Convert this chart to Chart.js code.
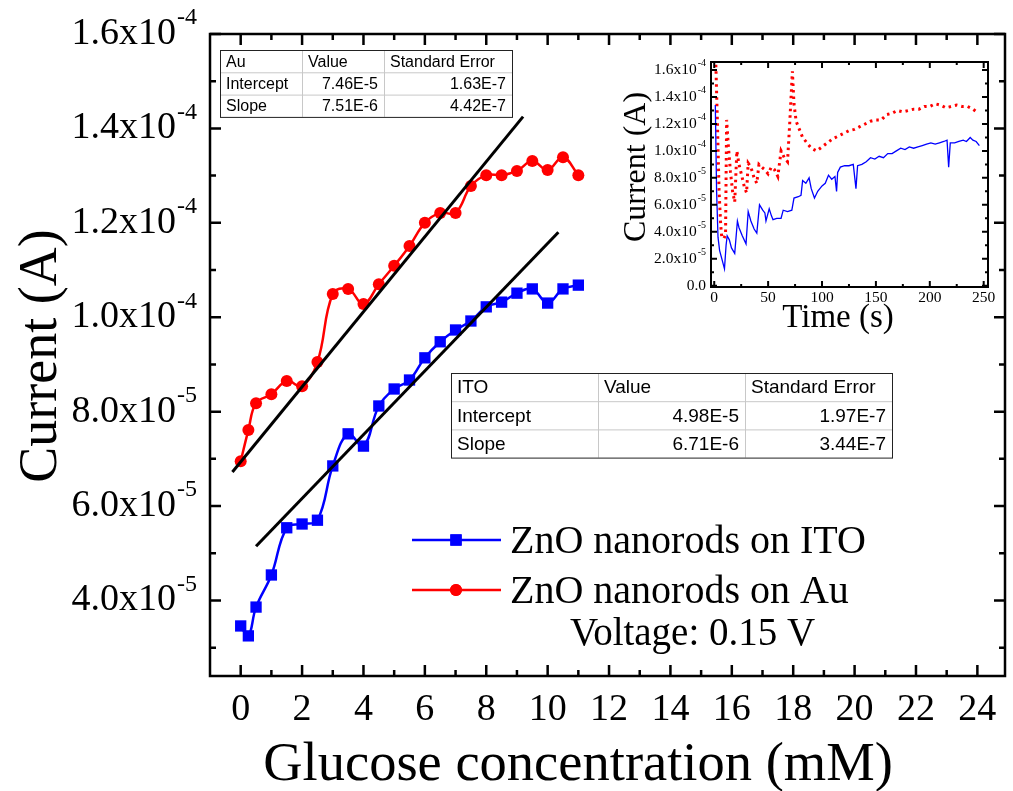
<!DOCTYPE html>
<html>
<head>
<meta charset="utf-8">
<script src="https://cdn.jsdelivr.net/npm/chart.js@4.4.0/dist/chart.umd.min.js"></script>
<style>
  body { margin: 0; background: #fff; }
  #wrap { position: relative; width: 1013px; height: 791px; }
  #mainChart { position: absolute; left: 0; top: 0; }
  #insetChart { position: absolute; left: 600px; top: 40px; }
</style>
</head>
<body>
<div id="wrap">
  <canvas id="mainChart" width="1013" height="791"></canvas>
  <canvas id="insetChart" width="400" height="320"></canvas>
</div>
<script>
// main plot data (glucose in mM, current in A)
const glucose = [0, 0.25, 0.5, 1, 1.5, 2, 2.5, 3, 3.5, 4, 4.5, 5, 5.5, 6, 6.5, 7, 7.5, 8, 8.5, 9, 9.5, 10, 10.5, 11];
const currentITO = [3.46e-5, 3.25e-5, 3.86e-5, 4.54e-5, 5.54e-5, 5.62e-5, 5.70e-5, 6.85e-5, 7.53e-5, 7.27e-5, 8.12e-5, 8.48e-5,
  8.67e-5, 9.14e-5, 9.48e-5, 9.73e-5, 9.92e-5, 1.022e-4, 1.032e-4, 1.051e-4, 1.060e-4, 1.030e-4, 1.060e-4, 1.068e-4];
const currentAu = [6.95e-5, 7.61e-5, 8.18e-5, 8.37e-5, 8.65e-5, 8.54e-5, 9.05e-5, 1.049e-4, 1.060e-4, 1.028e-4, 1.070e-4, 1.109e-4,
  1.151e-4, 1.200e-4, 1.221e-4, 1.221e-4, 1.278e-4, 1.301e-4, 1.301e-4, 1.310e-4, 1.331e-4, 1.312e-4, 1.339e-4, 1.301e-4];

// linear fit lines (end points)
const fitAuX = [-0.27, 9.2];
const fitAuY = [6.72e-5, 1.425e-4];
const fitITOX = [0.5, 10.35];
const fitITOY = [5.15e-5, 1.18e-4];

// axis ticks
const xTicks = [0, 2, 4, 6, 8, 10, 12, 14, 16, 18, 20, 22, 24];
const xMinorTicks = [1, 3, 5, 7, 9, 11, 13, 15, 17, 19, 21, 23];
const yTicks = [4e-5, 6e-5, 8e-5, 1e-4, 1.2e-4, 1.4e-4, 1.6e-4];
const yMinorTicks = [3e-5, 5e-5, 7e-5, 9e-5, 1.1e-4, 1.3e-4, 1.5e-4];
const yTickBase = ['4.0x10', '6.0x10', '8.0x10', '1.0x10', '1.2x10', '1.4x10', '1.6x10'];
const yTickExp = ['-5', '-5', '-5', '-4', '-4', '-4', '-4'];

// fit tables
const auTable = [['Au', 'Value', 'Standard Error'], ['Intercept', '7.46E-5', '1.63E-7'], ['Slope', '7.51E-6', '4.42E-7']];
const itoTable = [['ITO', 'Value', 'Standard Error'], ['Intercept', '4.98E-5', '1.97E-7'], ['Slope', '6.71E-6', '3.44E-7']];

// inset: current vs time
const timeITO = [1, 2.2, 3.5, 5, 7, 9.5, 11, 12, 14, 16, 19, 21.5, 23, 26, 29.5, 31.5, 34, 37, 39.5, 42, 45, 47, 48, 51, 53,
  54.5, 58, 62, 64, 68, 72, 74, 78, 80.5, 82, 85, 88, 90, 93, 96, 100, 103, 106, 109, 112, 113.5, 114.5, 117, 121, 125,
  129, 131.5, 133, 137, 141, 145, 149, 153, 157, 161, 165, 169, 173, 177, 181, 185, 189, 193, 197, 201, 205, 209, 213,
  216, 217.5, 219, 223, 227, 231, 234, 237.5, 240, 243, 246];
const currITO = [1.34e-4, 7.0e-5, 3.6e-5, 2.6e-5, 2.0e-5, 1.25e-5, 3.0e-5, 3.7e-5, 3.4e-5, 2.8e-5, 2.4e-5, 4.8e-5, 4.3e-5,
  3.7e-5, 3.1e-5, 5.5e-5, 4.8e-5, 4.2e-5, 3.9e-5, 6.0e-5, 5.6e-5, 5.4e-5, 4.8e-5, 5.7e-5, 5.2e-5, 4.9e-5, 5.0e-5,
  5.0e-5, 5.6e-5, 5.5e-5, 5.6e-5, 6.5e-5, 6.6e-5, 6.7e-5, 7.8e-5, 7.6e-5, 8.0e-5, 7.2e-5, 6.5e-5, 7.0e-5, 7.4e-5,
  7.6e-5, 8.2e-5, 7.9e-5, 8.1e-5, 7.0e-5, 8.4e-5, 8.8e-5, 8.9e-5, 8.9e-5, 9.0e-5, 7.2e-5, 8.9e-5, 9.0e-5, 9.2e-5,
  9.5e-5, 9.4e-5, 9.6e-5, 9.5e-5, 9.8e-5, 9.8e-5, 1.0e-4, 1.02e-4, 1.01e-4, 1.03e-4, 1.02e-4, 1.03e-4, 1.04e-4,
  1.05e-4, 1.06e-4, 1.05e-4, 1.06e-4, 1.07e-4, 1.08e-4, 8.8e-5, 1.06e-4, 1.06e-4, 1.07e-4, 1.08e-4, 1.07e-4, 1.1e-4,
  1.08e-4, 1.07e-4, 1.04e-4];
const timeAu = [1.5, 3, 4.5, 6, 7, 9, 10.5, 11.5, 13, 15, 17, 19, 21, 23, 26, 28, 30, 31.5, 34, 37, 39.5, 41.5, 44, 47, 50,
  53, 56, 59, 62, 65, 68, 70, 72.5, 74, 76, 79, 82, 86, 90, 95, 100, 105, 110, 115, 120, 125, 130, 135, 140, 145, 150,
  155, 160, 165, 170, 175, 180, 185, 190, 195, 200, 205, 210, 215, 220, 225, 230, 235, 240, 245];
const currAu = [1.64e-4, 1.2e-4, 7.0e-5, 4.5e-5, 3.6e-5, 3.5e-5, 3.8e-5, 1.23e-4, 1.05e-4, 8.5e-5, 7.0e-5, 6.2e-5, 1.0e-4,
  9.0e-5, 8.0e-5, 7.3e-5, 6.9e-5, 9.1e-5, 8.8e-5, 8.0e-5, 7.6e-5, 9.0e-5, 8.8e-5, 8.6e-5, 8.3e-5, 8.8e-5, 8.6e-5,
  8.1e-5, 1.0e-4, 9.5e-5, 9.2e-5, 1.2e-4, 1.59e-4, 1.35e-4, 1.22e-4, 1.16e-4, 1.1e-4, 1.06e-4, 1.02e-4, 1.0e-4, 1.03e-4,
  1.06e-4, 1.09e-4, 1.11e-4, 1.13e-4, 1.15e-4, 1.16e-4, 1.18e-4, 1.2e-4, 1.22e-4, 1.23e-4, 1.23e-4, 1.27e-4, 1.28e-4,
  1.3e-4, 1.29e-4, 1.3e-4, 1.31e-4, 1.31e-4, 1.33e-4, 1.33e-4, 1.35e-4, 1.34e-4, 1.32e-4, 1.33e-4, 1.34e-4, 1.33e-4,
  1.33e-4, 1.31e-4, 1.28e-4];
const insetXTicks = [0, 50, 100, 150, 200, 250];
const insetXMinor = [25, 75, 125, 175, 225];
const insetYTicks = [0, 2e-5, 4e-5, 6e-5, 8e-5, 1e-4, 1.2e-4, 1.4e-4, 1.6e-4];
const insetYMinor = [1e-5, 3e-5, 5e-5, 7e-5, 9e-5, 1.1e-4, 1.3e-4, 1.5e-4];
const insetYBase = ['0.0', '2.0x10', '4.0x10', '6.0x10', '8.0x10', '1.0x10', '1.2x10', '1.4x10', '1.6x10'];
const insetYExp = ['', '-5', '-5', '-5', '-5', '-4', '-4', '-4', '-4'];

const SERIF = '"Liberation Serif", "Times New Roman", serif';
const SANS = '"Liberation Sans", Arial, sans-serif';

function toPoints(xs, ys) {
  return xs.map((x, i) => ({ x: x, y: ys[i] }));
}

// box, inward ticks on all four sides, tick labels with superscript exponent
function drawFrame(chart, o) {
  const ctx = chart.ctx, a = chart.chartArea;
  const xs = chart.scales.x, ys = chart.scales.y;
  ctx.save();
  ctx.strokeStyle = '#000';
  ctx.lineWidth = o.lineWidth;
  ctx.beginPath();
  o.xMajor.forEach(v => {
    const p = xs.getPixelForValue(v);
    ctx.moveTo(p, a.bottom); ctx.lineTo(p, a.bottom - o.major);
    ctx.moveTo(p, a.top); ctx.lineTo(p, a.top + o.major);
  });
  o.xMinor.forEach(v => {
    const p = xs.getPixelForValue(v);
    ctx.moveTo(p, a.bottom); ctx.lineTo(p, a.bottom - o.minor);
    ctx.moveTo(p, a.top); ctx.lineTo(p, a.top + o.minor);
  });
  o.yMajor.forEach(v => {
    const p = ys.getPixelForValue(v);
    ctx.moveTo(a.left, p); ctx.lineTo(a.left + o.major, p);
    ctx.moveTo(a.right, p); ctx.lineTo(a.right - o.major, p);
  });
  o.yMinor.forEach(v => {
    const p = ys.getPixelForValue(v);
    ctx.moveTo(a.left, p); ctx.lineTo(a.left + o.minor, p);
    ctx.moveTo(a.right, p); ctx.lineTo(a.right - o.minor, p);
  });
  ctx.stroke();
  ctx.strokeRect(a.left, a.top, a.right - a.left, a.bottom - a.top);

  ctx.fillStyle = '#000';
  // x labels
  ctx.font = o.tickFont + 'px ' + SERIF;
  ctx.textAlign = 'center';
  ctx.textBaseline = 'middle';
  o.xMajor.forEach(v => {
    ctx.fillText(String(v), xs.getPixelForValue(v), a.bottom + o.xLabelGap);
  });
  // y labels: base text + raised exponent
  const supFont = Math.round(o.tickFont * 0.62);
  o.yMajor.forEach((v, i) => {
    const p = ys.getPixelForValue(v);
    let right = a.left - o.yLabelGap;
    ctx.textAlign = 'right';
    if (o.yExp[i]) {
      ctx.font = supFont + 'px ' + SERIF;
      const w = ctx.measureText(o.yExp[i]).width;
      ctx.fillText(o.yExp[i], right, p - o.tickFont * 0.42);
      right -= w + 1;
    }
    ctx.font = o.tickFont + 'px ' + SERIF;
    ctx.fillText(o.yBase[i], right, p);
  });

  // axis titles
  ctx.textAlign = 'center';
  ctx.font = o.xTitleFont + 'px ' + SERIF;
  ctx.fillText(o.xTitle, o.xTitlePos[0], o.xTitlePos[1]);
  ctx.save();
  ctx.font = o.yTitleFont + 'px ' + SERIF;
  ctx.translate(o.yTitlePos[0], o.yTitlePos[1]);
  ctx.rotate(-Math.PI / 2);
  ctx.fillText(o.yTitle, 0, 0);
  ctx.restore();
  ctx.restore();
}

function drawTable(ctx, rows, left, top, colW, rowH, fontPx) {
  const totalW = colW.reduce((s, w) => s + w, 0);
  ctx.save();
  ctx.fillStyle = '#fff';
  ctx.fillRect(left, top, totalW, rowH * rows.length);
  ctx.strokeStyle = '#c8c8c8';
  ctx.lineWidth = 1;
  ctx.beginPath();
  for (let r = 1; r < rows.length; r++) {
    ctx.moveTo(left, top + r * rowH + 0.5); ctx.lineTo(left + totalW, top + r * rowH + 0.5);
  }
  let cx = left;
  for (let c = 0; c < colW.length - 1; c++) {
    cx += colW[c];
    ctx.moveTo(cx + 0.5, top); ctx.lineTo(cx + 0.5, top + rowH * rows.length);
  }
  ctx.stroke();
  ctx.strokeStyle = '#222';
  ctx.strokeRect(left + 0.5, top + 0.5, totalW, rowH * rows.length);
  ctx.fillStyle = '#000';
  ctx.font = fontPx + 'px ' + SANS;
  ctx.textBaseline = 'middle';
  rows.forEach((row, r) => {
    let x = left;
    row.forEach((txt, c) => {
      const y = top + r * rowH + rowH / 2 + 1;
      if (r === 0 || c === 0) {
        ctx.textAlign = 'left';
        ctx.fillText(txt, x + 6, y);
      } else {
        ctx.textAlign = 'right';
        ctx.fillText(txt, x + colW[c] - 6, y);
      }
      x += colW[c];
    });
  });
  ctx.restore();
}

const mainDecor = {
  id: 'mainDecor',
  afterDraw(chart) {
    drawFrame(chart, {
      lineWidth: 2.5, major: 11, minor: 6,
      xMajor: xTicks, xMinor: xMinorTicks, yMajor: yTicks, yMinor: yMinorTicks,
      yBase: yTickBase, yExp: yTickExp,
      tickFont: 38, xLabelGap: 34, yLabelGap: 13,
      xTitleFont: 54.5, yTitleFont: 54,
      xTitle: 'Glucose concentration (mM)', xTitlePos: [578, 766],
      yTitle: 'Current (A)', yTitlePos: [42, 356]
    });
    const ctx = chart.ctx;
    drawTable(ctx, auTable, 220, 50, [82, 82, 128], 22.3, 16);
    drawTable(ctx, itoTable, 451, 373, [147, 147, 147], 28.2, 19);

    // legend
    const ds = chart.data.datasets;
    const items = [ds[0], ds[1]];
    const rowsY = [540, 590];
    ctx.save();
    items.forEach((d, i) => {
      ctx.fillStyle = '#000';
      ctx.font = '40px ' + SERIF;
      ctx.textAlign = 'left';
      ctx.textBaseline = 'middle';
      ctx.fillText(d.label, 510, rowsY[i] + 2);
      ctx.strokeStyle = d.borderColor;
      ctx.lineWidth = d.borderWidth;
      ctx.beginPath();
      ctx.moveTo(412, rowsY[i]); ctx.lineTo(501, rowsY[i]);
      ctx.stroke();
      ctx.fillStyle = d.pointBackgroundColor;
      Chart.helpers.drawPoint(ctx, {
        pointStyle: d.pointStyle, radius: d.pointRadius, borderWidth: 0, rotation: 0
      }, 456, rowsY[i]);
      ctx.fill();
    });
    ctx.fillStyle = '#000';
    ctx.font = '39px ' + SERIF;
    ctx.fillText('Voltage: 0.15 V', 570, 635);
    ctx.restore();
  }
};

new Chart(document.getElementById('mainChart'), {
  type: 'line',
  data: {
    datasets: [
      {
        label: 'ZnO nanorods on ITO',
        data: toPoints(glucose, currentITO),
        borderColor: '#0000ff', backgroundColor: '#0000ff',
        pointBackgroundColor: '#0000ff', pointBorderWidth: 0,
        pointStyle: 'rect', pointRadius: 8, borderWidth: 2.5, tension: 0.4, order: 3
      },
      {
        label: 'ZnO nanorods on Au',
        data: toPoints(glucose, currentAu),
        borderColor: '#ff0000', backgroundColor: '#ff0000',
        pointBackgroundColor: '#ff0000', pointBorderWidth: 0,
        pointStyle: 'circle', pointRadius: 6, borderWidth: 2.5, tension: 0.4, order: 3
      },
      {
        label: 'Au fit', data: toPoints(fitAuX, fitAuY),
        borderColor: '#000', borderWidth: 3, pointRadius: 0, tension: 0, order: 1
      },
      {
        label: 'ITO fit', data: toPoints(fitITOX, fitITOY),
        borderColor: '#000', borderWidth: 3, pointRadius: 0, tension: 0, order: 1
      }
    ]
  },
  options: {
    responsive: false,
    animation: false,
    layout: { padding: { left: 210, top: 34, right: 3, bottom: 115 } },
    plugins: { legend: { display: false }, tooltip: { enabled: false } },
    scales: {
      x: { type: 'linear', min: -1, max: 24.9, display: false },
      y: { type: 'linear', min: 2.4e-5, max: 1.6e-4, display: false }
    }
  },
  plugins: [mainDecor]
});

const insetDecor = {
  id: 'insetDecor',
  afterDraw(chart) {
    drawFrame(chart, {
      lineWidth: 2, major: 6, minor: 3,
      xMajor: insetXTicks, xMinor: insetXMinor, yMajor: insetYTicks, yMinor: insetYMinor,
      yBase: insetYBase, yExp: insetYExp,
      tickFont: 15.5, xLabelGap: 11, yLabelGap: 5,
      xTitleFont: 33, yTitleFont: 32,
      xTitle: 'Time (s)', xTitlePos: [238, 278],
      yTitle: 'Current (A)', yTitlePos: [37, 127]
    });
  }
};

new Chart(document.getElementById('insetChart'), {
  type: 'line',
  data: {
    datasets: [
      {
        label: 'ITO', data: toPoints(timeITO, currITO),
        borderColor: '#0000ff', borderWidth: 1.3, pointRadius: 0, tension: 0
      },
      {
        label: 'Au', data: toPoints(timeAu, currAu),
        borderColor: '#ff0000', borderWidth: 3, borderDash: [2.5, 4], pointRadius: 0, tension: 0
      }
    ]
  },
  options: {
    responsive: false,
    animation: false,
    layout: { padding: { left: 111, top: 22, right: 12, bottom: 73 } },
    plugins: { legend: { display: false }, tooltip: { enabled: false } },
    scales: {
      x: { type: 'linear', min: -3, max: 254, display: false },
      y: { type: 'linear', min: -1e-6, max: 1.66e-4, display: false }
    }
  },
  plugins: [insetDecor]
});
</script>
</body>
</html>
